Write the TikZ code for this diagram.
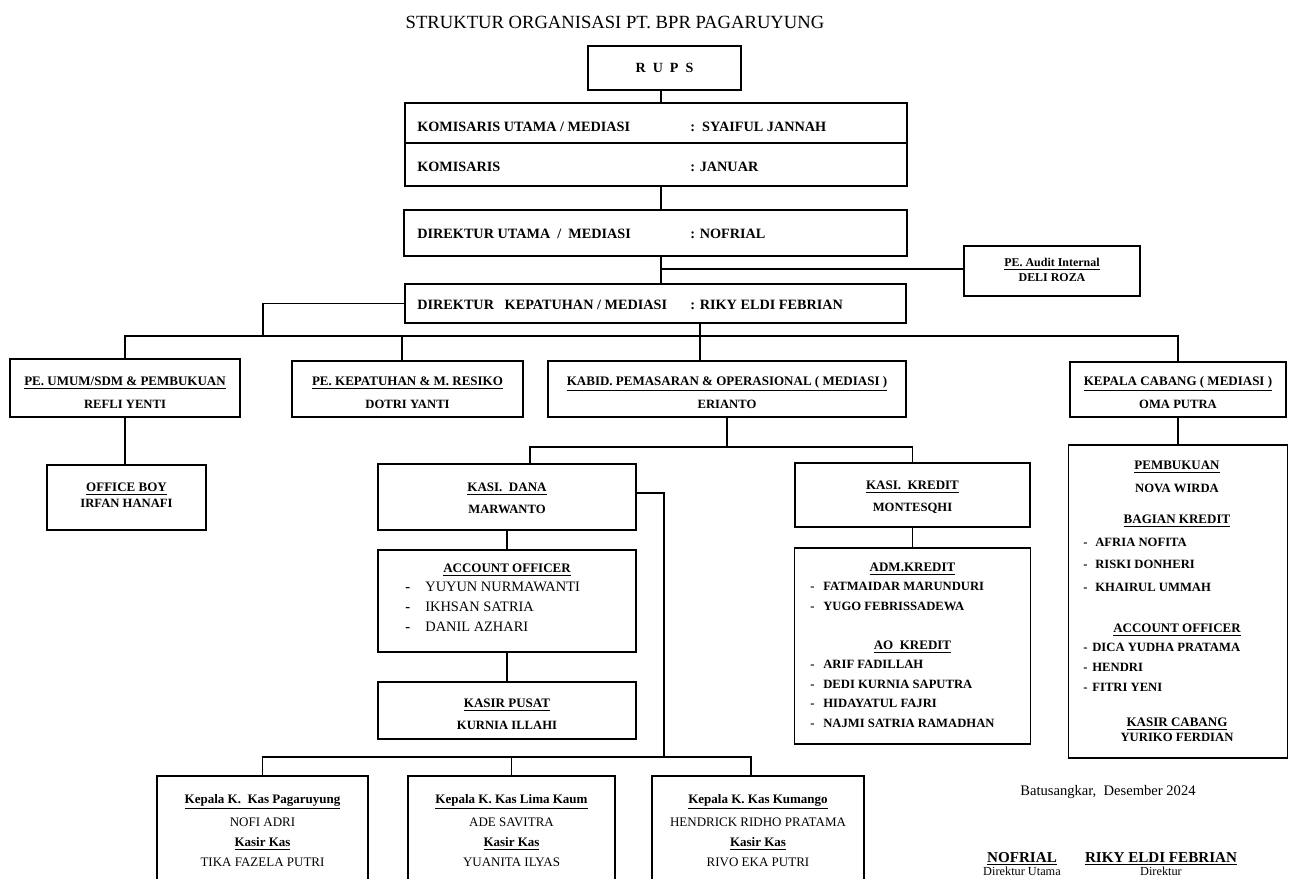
\documentclass[tikz,border=0pt]{standalone}
\usepackage{fontspec}
\setmainfont{Liberation Serif}
\usetikzlibrary{positioning,calc}

\newcommand{\undl}[1]{\underline{#1}}

\tikzset{
  bx/.style 2 args={draw, line width=1pt, minimum width=#1*0.02cm, minimum height=#2*0.02cm, inner sep=0pt},
  ln/.style={line width=1pt},
  ttl/.style={inner sep=0pt, text height=7pt, text depth=0pt, font=\fontsize{10.6}{12}\selectfont},
  rowtxt/.style={anchor=west, inner sep=0pt, text height=5.4pt, text depth=0pt, font=\fontsize{8.1}{10}\selectfont\bfseries},
  hd/.style={inner sep=0pt, text height=4.9pt, text depth=0pt, font=\fontsize{7.4}{9}\selectfont\bfseries},
  nm/.style={inner sep=0pt, text height=4.8pt, text depth=0pt, font=\fontsize{7.2}{9}\selectfont\bfseries},
  lst/.style={anchor=west, inner sep=0pt, text height=4.8pt, text depth=0pt, font=\fontsize{7.2}{9}\selectfont\bfseries},
  lstr/.style={anchor=west, inner sep=0pt, text height=5.4pt, text depth=0pt, font=\fontsize{8.2}{10}\selectfont},
  kashd/.style={inner sep=0pt, text height=4.9pt, text depth=0pt, font=\fontsize{7.4}{9}\selectfont\bfseries},
  kasnm/.style={inner sep=0pt, text height=4.9pt, text depth=0pt, font=\fontsize{7.4}{9}\selectfont},
}

\begin{document}
\begin{tikzpicture}[x=0.02cm,y=-0.02cm]
\clip (0,0) rectangle (1296,879);
\fill[white] (0,0) rectangle (1296,879);

% judul
\node[ttl] (judul) at (615,22) {STRUKTUR ORGANISASI PT. BPR PAGARUYUNG};

% kotak atas
\node[bx={153}{44}, font=\fontsize{8}{9}\selectfont\bfseries] (rups) at (664.5,68) {R\ \ U\ \ P\ \ S};
\node[bx={502}{83}] (komut) at (656,144.5) {};
\node[bx={503}{46}] (dirut) at (655.5,233) {};
\node[bx={176}{50}] (audit) at (1052,271) {};
\node[bx={501}{39}] (dirpat) at (655.5,303.5) {};

\coordinate (kdiv) at (0,143);
\draw[ln] (komut.west |- kdiv) -- (komut.east |- kdiv);

\node[rowtxt] (komut1) at (417,127) {KOMISARIS UTAMA / MEDIASI};
\node[rowtxt] (komut1n) at (690,127) {:\ \ SYAIFUL JANNAH};
\node[rowtxt] (komut2) at (417,167) {KOMISARIS};
\node[rowtxt] (komut2n) at (690,167) {: JANUAR};
\node[rowtxt] (dirut1) at (417,234) {DIREKTUR UTAMA \ / \ MEDIASI};
\node[rowtxt] (dirut1n) at (690,234) {: NOFRIAL};
\node[rowtxt] (dirpat1) at (417,305) {DIREKTUR \ \ KEPATUHAN / MEDIASI};
\node[rowtxt] (dirpat1n) at (690,305) {: RIKY ELDI FEBRIAN};

\node[hd, font=\fontsize{6.8}{8}\selectfont\bfseries] (audit1) at (1052,262) {\undl{PE. Audit Internal}};
\node[hd, font=\fontsize{6.8}{8}\selectfont\bfseries] (audit2) at (1052,277) {DELI ROZA};

% garis atas
\coordinate (sp) at (661,0);
\coordinate (aud) at (0,269);
\draw[ln] (rups.south -| sp) -- (komut.north -| sp);
\draw[ln] (komut.south -| sp) -- (dirut.north -| sp);
\draw[ln] (dirut.south -| sp) -- (dirpat.north -| sp);
\draw[ln] (sp |- aud) -- (audit.west |- aud);

% level 2
\node[bx={230}{58}] (umum) at (125,388) {};
\node[bx={231}{56}] (kmr) at (407.5,389) {};
\node[bx={358}{56}] (kabid) at (727,389) {};
\node[bx={216}{55}] (kacab) at (1178,389.5) {};

\node[hd] (umum1) at (125,381) {\undl{PE. UMUM/SDM \& PEMBUKUAN}};
\node[nm] (umum2) at (125,404) {REFLI YENTI};
\node[hd] (kmr1) at (407.5,381) {\undl{PE. KEPATUHAN \& M. RESIKO}};
\node[nm] (kmr2) at (407.5,404) {DOTRI YANTI};
\node[hd] (kabid1) at (727,381) {\undl{KABID. PEMASARAN \& OPERASIONAL ( MEDIASI )}};
\node[nm] (kabid2) at (727,404) {ERIANTO};
\node[hd] (kacab1) at (1178,381) {\undl{KEPALA CABANG ( MEDIASI )}};
\node[nm] (kacab2) at (1178,404) {OMA PUTRA};

\coordinate (bus) at (0,336);
\coordinate (umx) at (263,0);
\coordinate (kmx) at (402,0);
\coordinate (kbx) at (700,0);
\draw[ln] (dirpat.west) -| (umx |- bus);
\draw[ln] (umum.north) |- (kacab.north |- bus) -- (kacab.north);
\draw[ln] (kmr.north -| kmx) -- (kmx |- bus);
\draw[ln] (dirpat.south -| kbx) -- (kabid.north -| kbx);

% office boy
\node[bx={159}{65}] (ob) at (126.5,497.5) {};
\node[hd] (ob1) at (126.5,487) {\undl{OFFICE BOY}};
\node[nm] (ob2) at (126.5,503) {IRFAN HANAFI};
\draw[ln] (umum.south) -- (umum.south |- ob.north);

% kasi dana
\node[bx={258}{66}] (dana) at (507,497) {};
\node[hd] (dana1) at (507,487) {\undl{KASI.\ \ DANA}};
\node[nm] (dana2) at (507,509) {MARWANTO};

\node[bx={258}{102}] (ao) at (507,601) {};
\node[hd] (ao1) at (507,568) {\undl{ACCOUNT OFFICER}};
\foreach \nama [count=\i] in {YUYUN NURMAWANTI, IKHSAN SATRIA, DANIL AZHARI} {
  \node[lstr] (aod\i) at (405,{567+20*\i}) {\textbf{-}};
  \node[lstr] (aon\i) at (425,{567+20*\i}) {\nama};
}

\node[bx={258}{57}] (kp) at (507,710.5) {};
\node[hd] (kp1) at (507,703) {\undl{KASIR PUSAT}};
\node[nm] (kp2) at (507,725) {KURNIA ILLAHI};

\draw[ln] (dana.south) -- (ao.north);
\draw[ln] (ao.south) -- (kp.north);

% kasi kredit
\node[bx={235}{64}] (kredit) at (912.5,495) {};
\node[hd] (kredit1) at (912.5,485) {\undl{KASI.\ \ KREDIT}};
\node[nm] (kredit2) at (912.5,507) {MONTESQHI};

\node[bx={236}{196}] (adm) at (912.5,646) {};
\node[hd] (adm1) at (912.5,567) {\undl{ADM.KREDIT}};
\foreach \nama [count=\i] in {FATMAIDAR MARUNDURI, YUGO FEBRISSADEWA} {
  \node[lst] (admd\i) at (810,{566+20*\i}) {-};
  \node[lst] (admn\i) at (823,{566+20*\i}) {\nama};
}
\node[hd] (aok1) at (912.5,645) {\undl{AO\ \ KREDIT}};
\foreach \nama [count=\i] in {ARIF FADILLAH, DEDI KURNIA SAPUTRA, HIDAYATUL FAJRI, NAJMI SATRIA RAMADHAN} {
  \node[lst] (aokd\i) at (810,{644.5+19.7*\i}) {-};
  \node[lst] (aokn\i) at (823,{644.5+19.7*\i}) {\nama};
}

\draw[ln] (kredit.south) -- (adm.north);

\coordinate (bus2) at (0,447);
\coordinate (dnx) at (530,0);
\draw[ln] (kabid.south) -- (kabid.south |- bus2);
\draw[ln] (dana.north -| dnx) |- (kredit.north |- bus2) -- (kredit.north);

% cabang
\node[bx={219}{313}] (cabang) at (1178,601.5) {};
\node[hd] (cab1) at (1177,465) {\undl{PEMBUKUAN}};
\node[nm] (cab2) at (1177,488) {NOVA WIRDA};
\node[hd] (cab3) at (1177,519) {\undl{BAGIAN KREDIT}};
\foreach \nama [count=\i] in {AFRIA NOFITA, RISKI DONHERI, KHAIRUL UMMAH} {
  \node[lst] (bkd\i) at (1083,{519.5+22.5*\i}) {-};
  \node[lst] (bkn\i) at (1095,{519.5+22.5*\i}) {\nama};
}
\node[hd] (cab4) at (1177,628) {\undl{ACCOUNT OFFICER}};
\foreach \nama [count=\i] in {DICA YUDHA PRATAMA, HENDRI, FITRI YENI} {
  \node[lst] (cad\i) at (1083,{627+20*\i}) {-};
  \node[lst] (can\i) at (1092,{627+20*\i}) {\nama};
}
\node[hd] (cab5) at (1177,722) {\undl{KASIR CABANG}};
\node[nm] (cab6) at (1177,737) {YURIKO FERDIAN};

\draw[ln] (kacab.south) -- (cabang.north);

% kantor kas
\node[bx={211}{114}] (kas1) at (262.5,833) {};
\node[bx={207}{114}] (kas2) at (511.5,833) {};
\node[bx={212}{114}] (kas3) at (758,833) {};

\node[kashd] (kas1a) at (262.5,799) {\undl{Kepala K.\ \ Kas Pagaruyung}};
\node[kasnm] (kas1b) at (262.5,822) {NOFI ADRI};
\node[kashd] (kas1c) at (262.5,842) {\undl{Kasir Kas}};
\node[kasnm] (kas1d) at (262.5,862) {TIKA FAZELA PUTRI};

\node[kashd] (kas2a) at (511.5,799) {\undl{Kepala K. Kas Lima Kaum}};
\node[kasnm] (kas2b) at (511.5,822) {ADE SAVITRA};
\node[kashd] (kas2c) at (511.5,842) {\undl{Kasir Kas}};
\node[kasnm] (kas2d) at (511.5,862) {YUANITA ILYAS};

\node[kashd] (kas3a) at (758,799) {\undl{Kepala K. Kas Kumango}};
\node[kasnm] (kas3b) at (758,822) {HENDRICK RIDHO PRATAMA};
\node[kashd] (kas3c) at (758,842) {\undl{Kasir Kas}};
\node[kasnm] (kas3d) at (758,862) {RIVO EKA PUTRI};

\coordinate (bus3) at (0,757);
\coordinate (dny) at (0,493);
\coordinate (sdx) at (664,0);
\coordinate (k3x) at (751,0);
\draw[ln] (dana.east |- dny) -| (sdx |- bus3);
\draw[ln] (kas1.north) |- (k3x |- bus3) -- (kas3.north -| k3x);
\draw[ln] (kas2.north) -- (kas2.north |- bus3);

% tanda tangan
\node[inner sep=0pt, font=\fontsize{8.3}{10}\selectfont] (tgl) at (1108,792) {Batusangkar,\ \ Desember 2024};
\node[inner sep=0pt, text height=5.7pt, text depth=0pt, font=\fontsize{8.6}{10}\selectfont\bfseries] (ttd1) at (1022,857) {\undl{NOFRIAL}};
\node[inner sep=0pt, font=\fontsize{7}{9}\selectfont] (jab1) at (1022,871) {Direktur Utama};
\node[inner sep=0pt, text height=5.7pt, text depth=0pt, font=\fontsize{8.6}{10}\selectfont\bfseries] (ttd2) at (1161,857) {\undl{RIKY ELDI FEBRIAN}};
\node[inner sep=0pt, font=\fontsize{7}{9}\selectfont] (jab2) at (1161,871) {Direktur};
\end{tikzpicture}
\end{document}
